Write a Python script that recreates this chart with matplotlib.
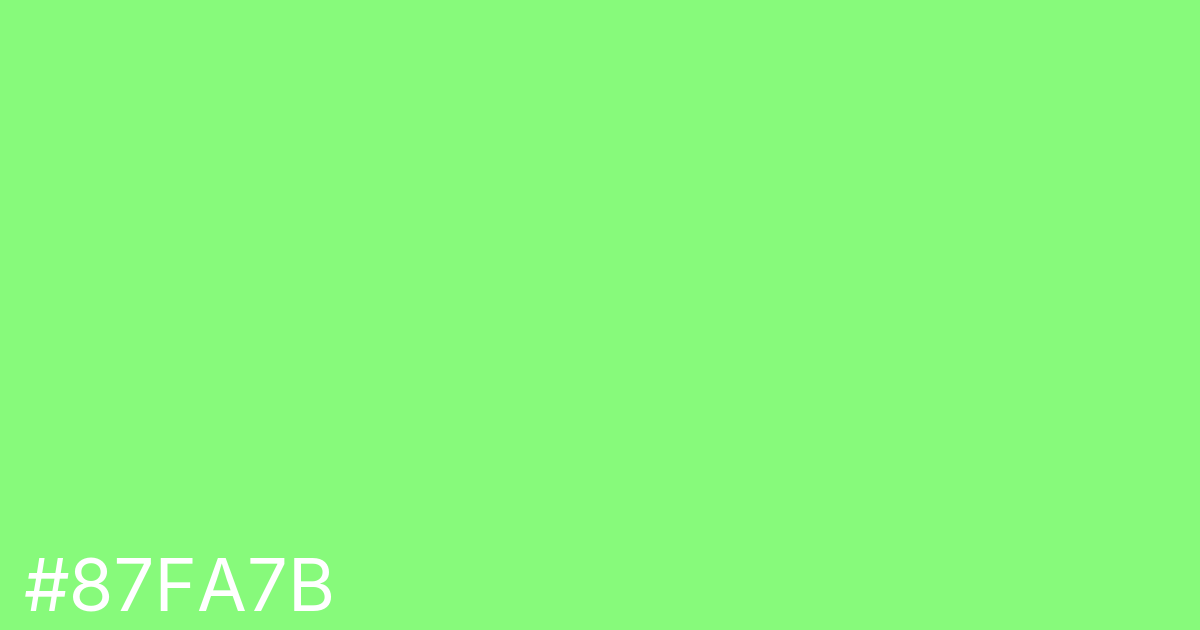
import matplotlib
matplotlib.use("Agg")
import matplotlib.pyplot as plt

hex_label = "#87FA7B"
bg_color = "#87FA7B"

fig = plt.figure(figsize=(12, 6.3), dpi=100)
fig.patch.set_facecolor(bg_color)
fig.text(24 / 1200, 1 - 612 / 630, hex_label, color="white", fontsize=52,
         family=["Inter", "DejaVu Sans"], ha="left", va="baseline")
fig.savefig("out.png", dpi=100, facecolor=bg_color)
